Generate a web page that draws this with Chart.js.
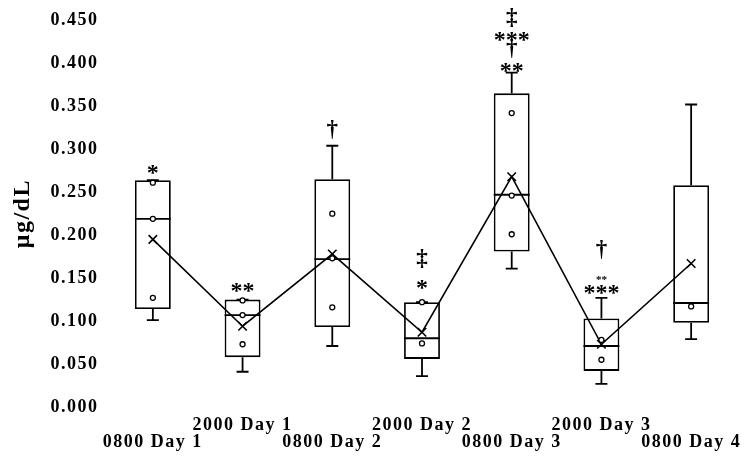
<!DOCTYPE html>
<html>
<head>
<meta charset="utf-8">
<script src="https://cdn.jsdelivr.net/npm/chart.js@4"></script>
<style>body{margin:0;background:#fff}</style>
</head>
<body>
<canvas id="chart" width="750" height="465"></canvas>
<script>
// categorias (horários de coleta)
const categories = ['0800 Day 1', '2000 Day 1', '0800 Day 2', '2000 Day 2', '0800 Day 3', '2000 Day 3', '0800 Day 4'];

// estatísticas de cada caixa (µg/dL)
const whiskerLow  = [0.101, 0.041, 0.071, 0.036, 0.161, 0.027, 0.079];
const q1          = [0.114, 0.058, 0.093, 0.056, 0.181, 0.042, 0.098];
const medians     = [0.219, 0.107, 0.172, 0.080, 0.247, 0.071, 0.121];
const q3          = [0.264, 0.125, 0.265, 0.122, 0.365, 0.103, 0.258];
const whiskerHigh = [0.264, 0.125, 0.304, 0.122, 0.389, 0.127, 0.352];
const means       = [0.195, 0.094, 0.178, 0.087, 0.268, 0.073, 0.167];

// pontos internos (círculos)
const innerPoints = [
    [0.261, 0.219, 0.127],
    [0.124, 0.107, 0.073],
    [0.225, 0.173, 0.116],
    [0.122, 0.074],
    [0.342, 0.246, 0.201],
    [0.078, 0.055],
    [0.117]
];

// marcas de significância (símbolo, altura em µg/dL)
const marks = [
    [{ t: '*', v: 0.276 }],
    [{ t: '**', v: 0.139 }],
    [{ t: '†', v: 0.323 }],
    [{ t: '*', v: 0.142 }, { t: '‡', v: 0.173 }],
    [{ t: '**', v: 0.395 }, { t: '†', v: 0.417 }, { t: '***', v: 0.431 }, { t: '‡', v: 0.453 }],
    [{ t: '***', v: 0.137 }, { t: '**', v: 0.150, small: true }, { t: '†', v: 0.183 }],
    []
];

const yTicks = { min: 0, max: 0.45, step: 0.05 };

const FONT = '"Liberation Serif", "Times New Roman", serif';

const boxExtras = {
    id: 'boxExtras',
    beforeDraw(chart) {
        chart.ctx.letterSpacing = '1.5px';
    },
    afterDatasetDraw(chart, args) {
        if (args.index !== 0) return; // só depois das caixas
        const { ctx, scales: { x, y } } = chart;
        const half = chart.getDatasetMeta(0).data[0].width / 2;
        const cap = 6;
        ctx.save();
        ctx.strokeStyle = '#000';
        ctx.lineWidth = 1.8;
        categories.forEach((c, i) => {
            const px = x.getPixelForValue(i);
            ctx.beginPath();
            // bigode superior
            ctx.moveTo(px, y.getPixelForValue(q3[i]));
            ctx.lineTo(px, y.getPixelForValue(whiskerHigh[i]));
            ctx.moveTo(px - cap, y.getPixelForValue(whiskerHigh[i]));
            ctx.lineTo(px + cap, y.getPixelForValue(whiskerHigh[i]));
            // bigode inferior
            ctx.moveTo(px, y.getPixelForValue(q1[i]));
            ctx.lineTo(px, y.getPixelForValue(whiskerLow[i]));
            ctx.moveTo(px - cap, y.getPixelForValue(whiskerLow[i]));
            ctx.lineTo(px + cap, y.getPixelForValue(whiskerLow[i]));
            // mediana
            ctx.moveTo(px - half, y.getPixelForValue(medians[i]));
            ctx.lineTo(px + half, y.getPixelForValue(medians[i]));
            ctx.stroke();
        });
        ctx.restore();
    },
    afterDraw(chart) {
        const { ctx, scales: { x, y } } = chart;
        ctx.save();
        ctx.letterSpacing = '0px';
        ctx.fillStyle = '#000';
        ctx.textAlign = 'center';
        ctx.textBaseline = 'alphabetic';
        marks.forEach((list, i) => {
            list.forEach(m => {
                const size = m.small ? 11 : (m.t.includes('*') ? 24 : 23);
                ctx.font = 'bold ' + size + 'px ' + FONT;
                const mt = ctx.measureText(m.t);
                const cy = y.getPixelForValue(m.v);
                ctx.fillText(m.t, x.getPixelForValue(i), cy + (mt.actualBoundingBoxAscent - mt.actualBoundingBoxDescent) / 2);
            });
        });
        ctx.restore();
    }
};

const ctx = document.getElementById('chart').getContext('2d');
new Chart(ctx, {
    data: {
        datasets: [{
            type: 'bar',
            label: 'Caixas',
            data: categories.map((c, i) => ({ x: i, y: [q1[i], q3[i]] })),
            backgroundColor: '#fff',
            borderColor: '#000',
            borderWidth: 1.8,
            borderSkipped: false,
            barPercentage: 0.4,
            categoryPercentage: 1,
            order: 3
        }, {
            type: 'line',
            label: 'Média',
            data: categories.map((c, i) => ({ x: i, y: means[i] })),
            borderColor: '#000',
            borderWidth: 1.6,
            pointStyle: 'crossRot',
            pointRadius: 6,
            pointBorderWidth: 1.6,
            pointBorderColor: '#000',
            tension: 0,
            order: 2
        }, {
            type: 'scatter',
            label: 'Pontos',
            data: innerPoints.flatMap((list, i) => list.map(v => ({ x: i, y: v }))),
            backgroundColor: '#fff',
            borderColor: '#000',
            pointRadius: 2.5,
            pointBorderWidth: 1.3,
            order: 1
        }]
    },
    options: {
        responsive: false,
        animation: false,
        layout: { padding: { top: 16, right: 14, left: 0, bottom: 0 } },
        plugins: {
            legend: { display: false },
            tooltip: { enabled: false }
        },
        scales: {
            x: {
                type: 'linear',
                min: -0.5,
                max: 6.5,
                offset: false,
                grid: { display: false, drawTicks: false, offset: false },
                border: { display: false },
                afterFit: s => { s.height = 58; },
                afterBuildTicks: s => { s.ticks = categories.map((c, i) => ({ value: i })); },
                ticks: {
                    autoSkip: false,
                    maxRotation: 0,
                    padding: 10,
                    color: '#000',
                    font: { family: FONT, size: 18, weight: 'bold', lineHeight: 0.95 },
                    callback: v => {
                        if (!categories[v]) return '';
                        return v % 2 === 0 ? ['', categories[v]] : [categories[v], ''];
                    }
                }
            },
            y: {
                min: yTicks.min,
                max: yTicks.max,
                grid: { display: false, drawTicks: false },
                border: { display: false },
                afterFit: s => { s.width = 108; },
                ticks: {
                    stepSize: yTicks.step,
                    padding: 9.5,
                    color: '#000',
                    font: { family: FONT, size: 18, weight: 'bold' },
                    callback: v => v.toFixed(3)
                },
                title: {
                    display: true,
                    text: 'μg/dL',
                    color: '#000',
                    padding: { top: 8, bottom: 0 },
                    font: { family: FONT, size: 24, weight: 'bold' }
                }
            }
        }
    },
    plugins: [boxExtras]
});
</script>
</body>
</html>
